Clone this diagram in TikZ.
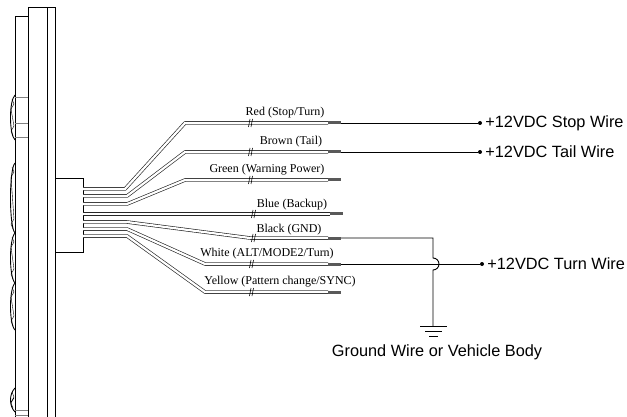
\documentclass[tikz,border=0pt]{standalone}
\usepackage{fontspec}
\setmainfont{Liberation Serif}
\newfontfamily\supplyfont{Liberation Sans}
\usetikzlibrary{positioning}
\tikzset{wire/.style={draw=black!85,line width=0.65pt,double=white,double distance=2.2pt,line join=round}}
\tikzset{tip/.style={draw=black!65,line width=3pt}}
\tikzset{lead/.style={draw,line width=0.9pt}}
\tikzset{body/.style={draw,line width=1pt}}
\tikzset{wname/.style={font=\fontsize{12}{12}\selectfont,inner sep=0pt}}
\tikzset{supply/.style={font=\supplyfont\fontsize{16.3}{16}\selectfont,inner sep=0pt}}
\tikzset{dot/.style={circle,fill,inner sep=0pt,minimum size=4pt}}
\tikzset{brk/.pic={\draw[line width=0.6pt] (-1.5,4) -- (0,-4); \draw[line width=0.6pt] (1,4) -- (2.5,-4);}}

\begin{document}
\begin{tikzpicture}[x=1pt,y=-1pt]
        \useasboundingbox (0,0) rectangle (627,417);
        % lamp body
        \draw[body] (15,417) -- (15,17) -- (28,17);
        \draw[body] (28,417) -- (28,8) -- (55,8) -- (55,417);
        \draw[line width=0.7pt] (47,8) -- (47,417);
        \foreach \ya in {97,123,137,410,415}
            \draw[black!50,thin] (15,\ya) -- (28,\ya);
        \foreach \ya/\yb in {95/140,163/233,233/283,283/330,388/412} {
            \draw[line width=0.9pt] (15,\ya) .. controls (9,\ya+6) and (9,\yb-6) .. (15,\yb);
            \draw[thin] (12,\ya+4) -- (14,\ya+9) -- (11,\ya+14) -- (14,\yb-14) -- (11,\yb-9) -- (13,\yb-4);
        }
        \node[draw,line width=1pt,minimum width=28pt,minimum height=74pt,anchor=north west,inner sep=0pt] (plug) at (55,178) {};

        % red
        \coordinate (red0) at (83,189);
        \coordinate (red1) at (125,189);
        \coordinate (red2) at (185,123);
        \coordinate (red3) at (328,123);
        \coordinate (red4) at (341,123);
        \draw[wire] (red0) -- (red1) -- (red2) -- (red3);
        \draw[tip] (red3) -- (red4);
        \pic at (250,123) {brk};
        \node[wname] (redlbl) at (285,113) {Red (Stop/Turn)};
        \node[dot] (stopdot) at (480,123) {};
            \path[lead] (red4) -- (stopdot);
        \node[supply,right=3pt of stopdot] (stoplbl) {+12VDC Stop Wire};

        % brown
        \coordinate (brn0) at (83,196);
        \coordinate (brn1) at (127,196);
        \coordinate (brn2) at (185,152);
        \coordinate (brn3) at (328,152);
        \coordinate (brn4) at (341,152);
        \draw[wire] (brn0) -- (brn1) -- (brn2) -- (brn3);
        \draw[tip] (brn3) -- (brn4);
        \pic at (250,152) {brk};
        \node[wname] (brnlbl) at (291,142) {Brown (Tail)};
        \node[dot] (taildot) at (480,152) {};
            \path[lead] (brn4) -- (taildot);
        \node[supply,right=3pt of taildot] (taillbl) {+12VDC Tail Wire};

        % green
        \coordinate (grn0) at (83,204);
        \coordinate (grn1) at (127,204);
        \coordinate (grn2) at (185,180);
        \coordinate (grn3) at (328,180);
        \coordinate (grn4) at (341,180);
        \draw[wire] (grn0) -- (grn1) -- (grn2) -- (grn3);
        \draw[tip] (grn3) -- (grn4);
        \pic at (250,180) {brk};
        \node[wname] (grnlbl) at (267,170) {Green (Warning Power)};

        % blue
        \coordinate (blu0) at (83,214);
        \coordinate (blu3) at (330,214);
        \coordinate (blu4) at (343,214);
        \draw[wire] (blu0) -- (blu3);
        \draw[tip] (blu3) -- (blu4);
        \pic at (253,214) {brk};
        \node[wname] (blulbl) at (292,205) {Blue (Backup)};

        % black
        \coordinate (blk0) at (83,222);
        \coordinate (blk1) at (127,222);
        \coordinate (blk2) at (250,238);
        \coordinate (blk3) at (328,238);
        \coordinate (blk4) at (341,238);
        \draw[wire] (blk0) -- (blk1) -- (blk2) -- (blk3);
        \draw[tip] (blk3) -- (blk4);
        \pic at (253,238) {brk};
        \node[wname] (blklbl) at (289,230) {Black (GND)};

        % white
        \coordinate (wht0) at (83,229);
        \coordinate (wht1) at (127,229);
        \coordinate (wht2) at (205,264);
        \coordinate (wht3) at (328,264);
        \coordinate (wht4) at (341,264);
        \draw[wire] (wht0) -- (wht1) -- (wht2) -- (wht3);
        \draw[tip] (wht3) -- (wht4);
        \pic at (251,264) {brk};
        \node[wname] (whtlbl) at (267,254) {White (ALT/MODE2/Turn)};
        \node[dot] (turndot) at (482,264) {};
            \path[lead] (wht4) -- (turndot);
        \node[supply,right=3pt of turndot] (turnlbl) {+12VDC Turn Wire};

        % yellow
        \coordinate (yel0) at (83,236);
        \coordinate (yel1) at (127,236);
        \coordinate (yel2) at (205,292);
        \coordinate (yel3) at (328,292);
        \coordinate (yel4) at (341,292);
        \draw[wire] (yel0) -- (yel1) -- (yel2) -- (yel3);
        \draw[tip] (yel3) -- (yel4);
        \pic at (251,292) {brk};
        \node[wname] (yellbl) at (280,282) {Yellow (Pattern change/SYNC)};

        % ground
        \coordinate (gnd0) at (433,238);
        \coordinate (gnd1) at (433,258);
        \coordinate (gnd2) at (433,326);
        \path[lead] (blk4) -- (gnd0) -- (gnd1) arc[start angle=-90,end angle=90,radius=6] -- (gnd2);
        \draw[lead] (420,326) -- (447,326);
        \draw[lead] (425,331) -- (442,331);
        \draw[lead] (429,336) -- (438,336);
        \node[supply] (gndlbl) at (437,352) {Ground Wire or Vehicle Body};
\end{tikzpicture}
\end{document}
